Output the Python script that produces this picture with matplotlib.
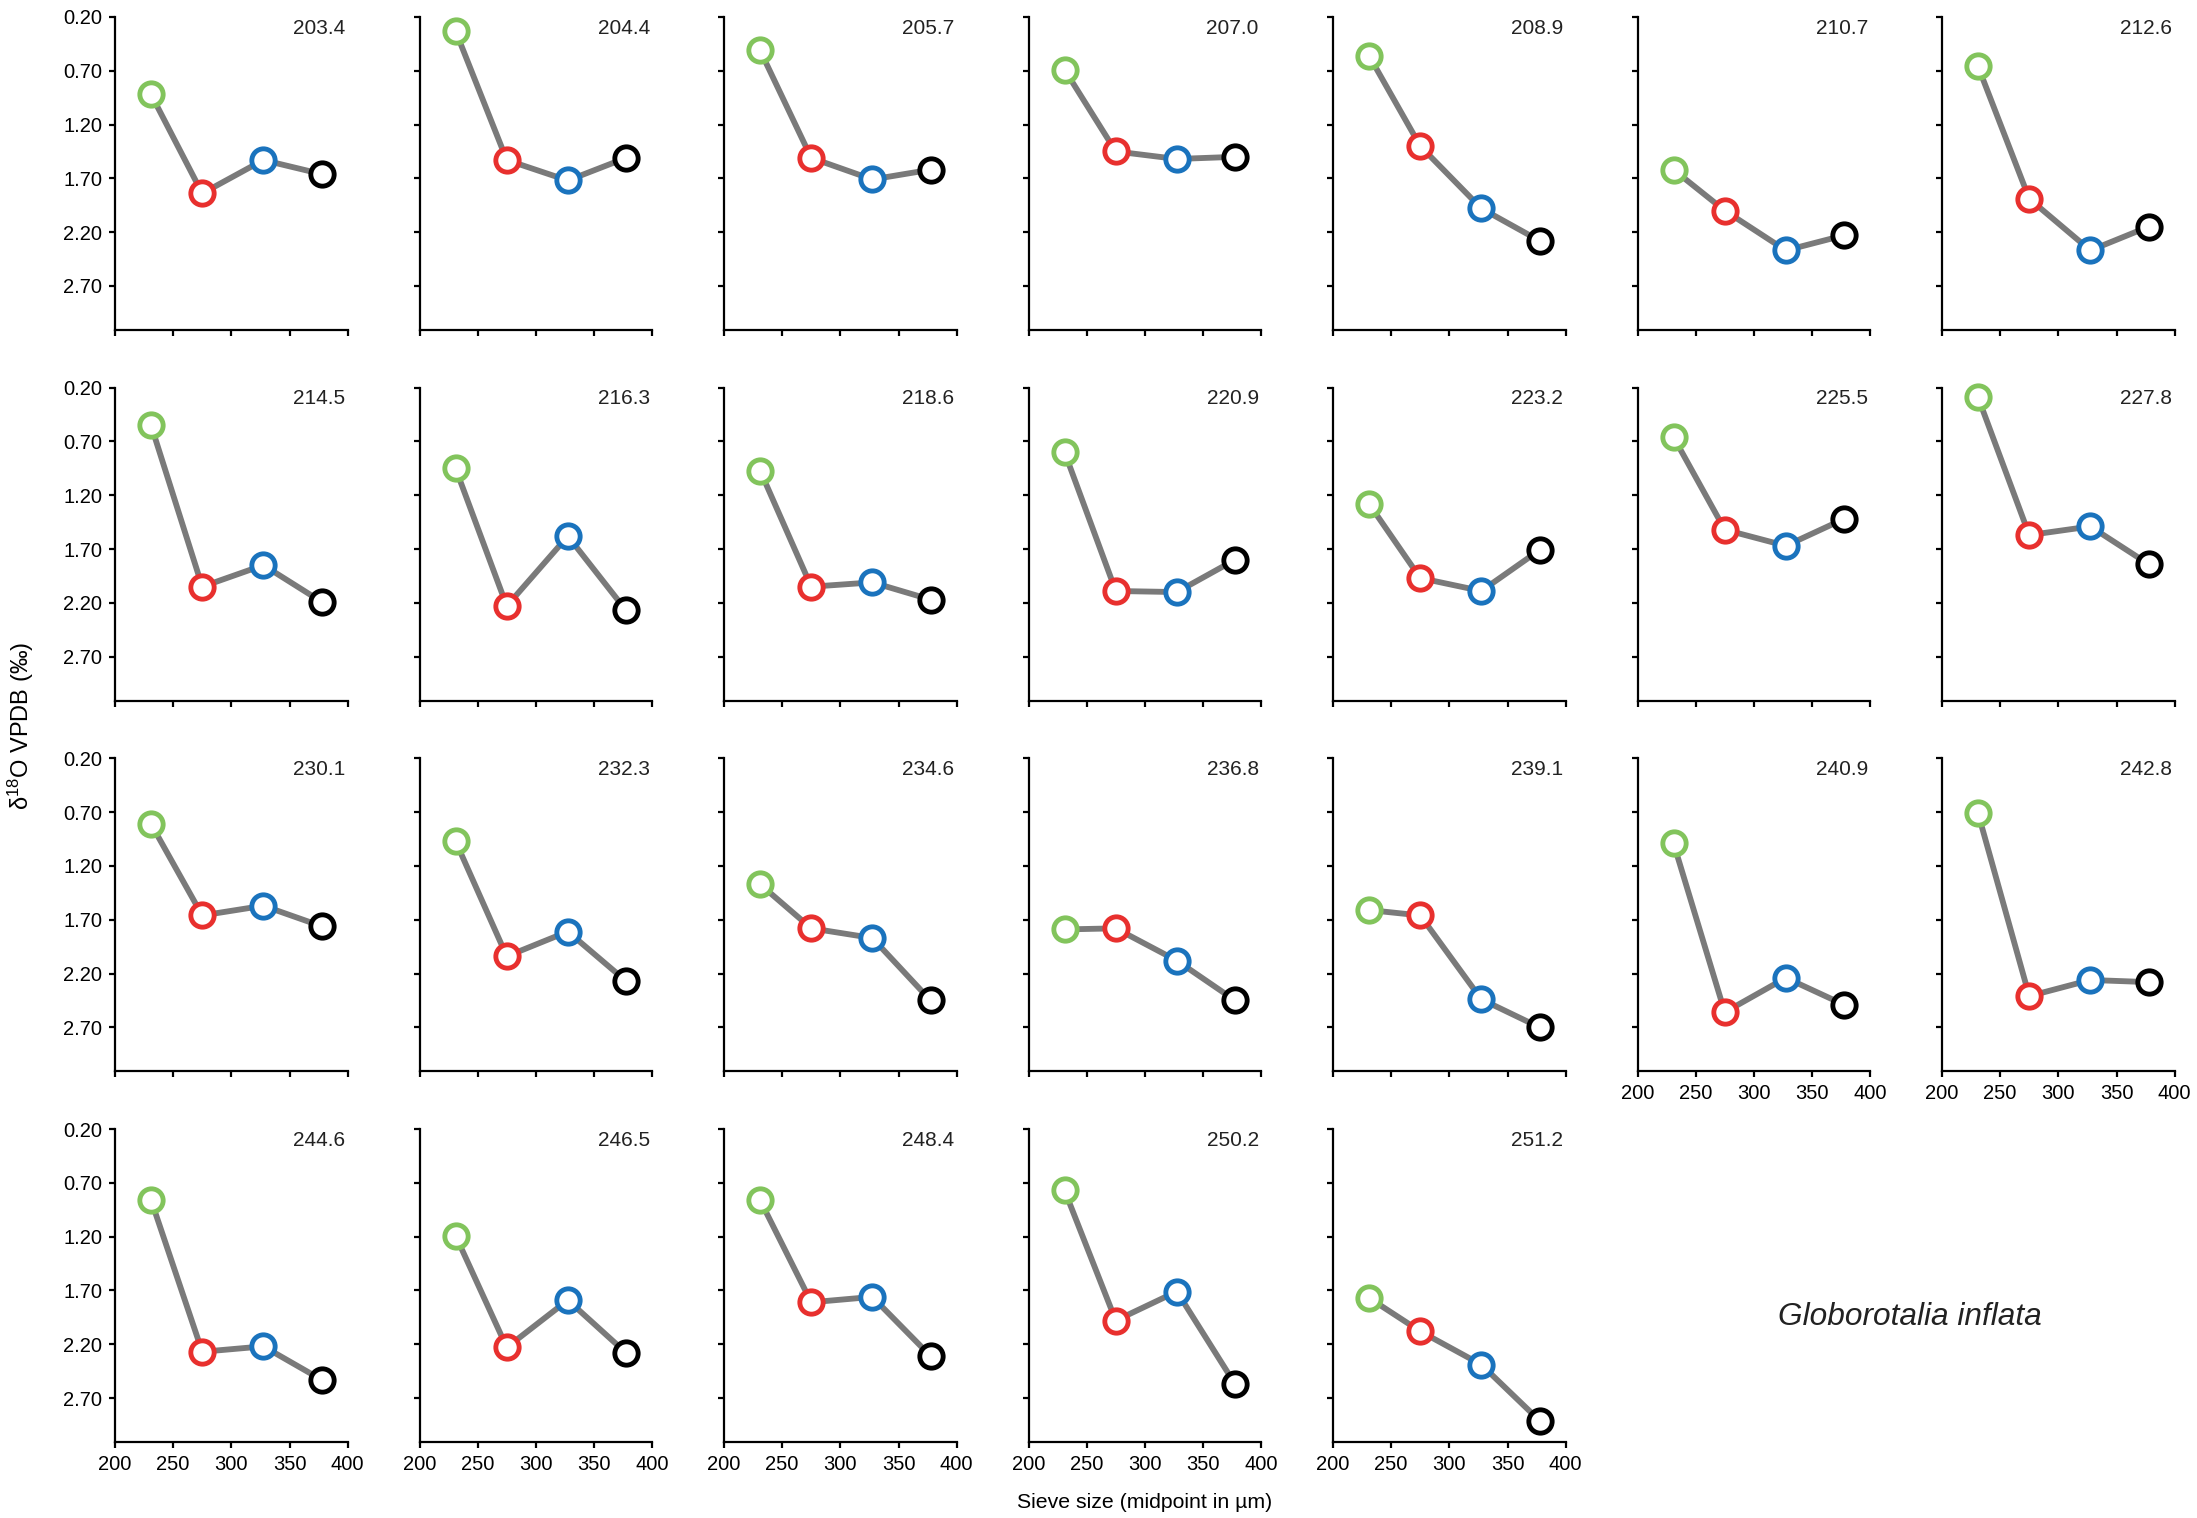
import numpy as np
import matplotlib
matplotlib.use("Agg")
import matplotlib.pyplot as plt

plt.rcParams['font.family'] = ['Liberation Sans', 'DejaVu Sans']
plt.rcParams['mathtext.fontset'] = 'custom'
plt.rcParams['mathtext.rm'] = 'Liberation Sans'
plt.rcParams['mathtext.it'] = 'Liberation Sans:italic'

# sieve size midpoints (um)
sieve = [231, 275, 327.5, 377.5]
colors = ['#82c45c', '#e8302e', '#1a73bd', '#000000']

# sample depth labels
depths = ['203.4', '204.4', '205.7', '207.0', '208.9', '210.7', '212.6',
          '214.5', '216.3', '218.6', '220.9', '223.2', '225.5', '227.8',
          '230.1', '232.3', '234.6', '236.8', '239.1', '240.9', '242.8',
          '244.6', '246.5', '248.4', '250.2', '251.2']

# d18O per size fraction (green, red, blue, black)
d18o = [
    [0.92, 1.84, 1.53, 1.66],
    [0.33, 1.53, 1.72, 1.51],
    [0.51, 1.51, 1.71, 1.62],
    [0.69, 1.45, 1.52, 1.50],
    [0.56, 1.40, 1.98, 2.28],
    [1.62, 2.00, 2.37, 2.23],
    [0.66, 1.89, 2.37, 2.15],
    [0.55, 2.05, 1.85, 2.19],
    [0.95, 2.23, 1.58, 2.27],
    [0.97, 2.05, 2.01, 2.17],
    [0.80, 2.09, 2.10, 1.80],
    [1.28, 1.97, 2.09, 1.71],
    [0.66, 1.52, 1.67, 1.42],
    [0.29, 1.57, 1.49, 1.84],
    [0.81, 1.66, 1.57, 1.76],
    [0.97, 2.04, 1.81, 2.27],
    [1.37, 1.78, 1.87, 2.45],
    [1.79, 1.78, 2.08, 2.45],
    [1.61, 1.66, 2.44, 2.70],
    [0.99, 2.56, 2.24, 2.49],
    [0.71, 2.41, 2.26, 2.28],
    [0.86, 2.27, 2.22, 2.53],
    [1.19, 2.23, 1.79, 2.28],
    [0.86, 1.81, 1.76, 2.31],
    [0.77, 1.98, 1.71, 2.57],
    [1.77, 2.08, 2.39, 2.91],
]

yticks = [0.20, 0.70, 1.20, 1.70, 2.20, 2.70]
xticks = [200, 250, 300, 350, 400]

W, H = 2197, 1518
fig = plt.figure(figsize=(W / 100, H / 100), dpi=100)

ax_w = 232.7 / W
ax_h = 313 / H
col_step = 304.5 / W
row_step = 370.7 / H
left0 = 115 / W
top0 = 17 / H

n = len(depths)
for i in range(n):
    r, c = divmod(i, 7)
    x0 = left0 + c * col_step
    y0 = 1 - top0 - r * row_step - ax_h
    ax = fig.add_axes([x0, y0, ax_w, ax_h])

    ax.plot(sieve, d18o[i], color='#7a7a7a', lw=4.2, zorder=2)
    for j in range(4):
        ax.plot(sieve[j], d18o[i][j], 'o', ms=16.8, mfc='white',
                mec=colors[j], mew=3.5, zorder=3, clip_on=False)

    ax.set_xlim(200, 400)
    ax.set_ylim(3.11, 0.20)
    ax.set_xticks(xticks)
    ax.set_yticks(yticks)
    ax.spines['top'].set_visible(False)
    ax.spines['right'].set_visible(False)
    ax.spines['left'].set_linewidth(1.6)
    ax.spines['bottom'].set_linewidth(1.6)
    ax.tick_params(direction='out', length=4, width=1.6, labelsize=14.5, pad=5)

    if c == 0:
        ax.set_yticklabels(['%.2f' % v for v in yticks])
    else:
        ax.set_yticklabels([])
    # bottom panel of each column gets the x labels
    if i + 7 >= n:
        ax.set_xticklabels([str(v) for v in xticks])
    else:
        ax.set_xticklabels([])

    ax.text(0.99, 0.995, depths[i], transform=ax.transAxes, ha='right',
            va='top', fontsize=15, color='#222222')

fig.text(21 / W, 1 - 726 / H, r'δ$^{18}$O VPDB (‰)',
         rotation=90, ha='center', va='center', fontsize=17)
fig.text(1145 / W, 1 - 1502 / H, 'Sieve size (midpoint in µm)',
         ha='center', va='center', fontsize=15.3)
fig.text(1910 / W, 1 - 1317 / H, 'Globorotalia inflata', ha='center',
         va='center', fontsize=22.8, style='italic', color='#222222')

fig.savefig('out.png', dpi=100)
